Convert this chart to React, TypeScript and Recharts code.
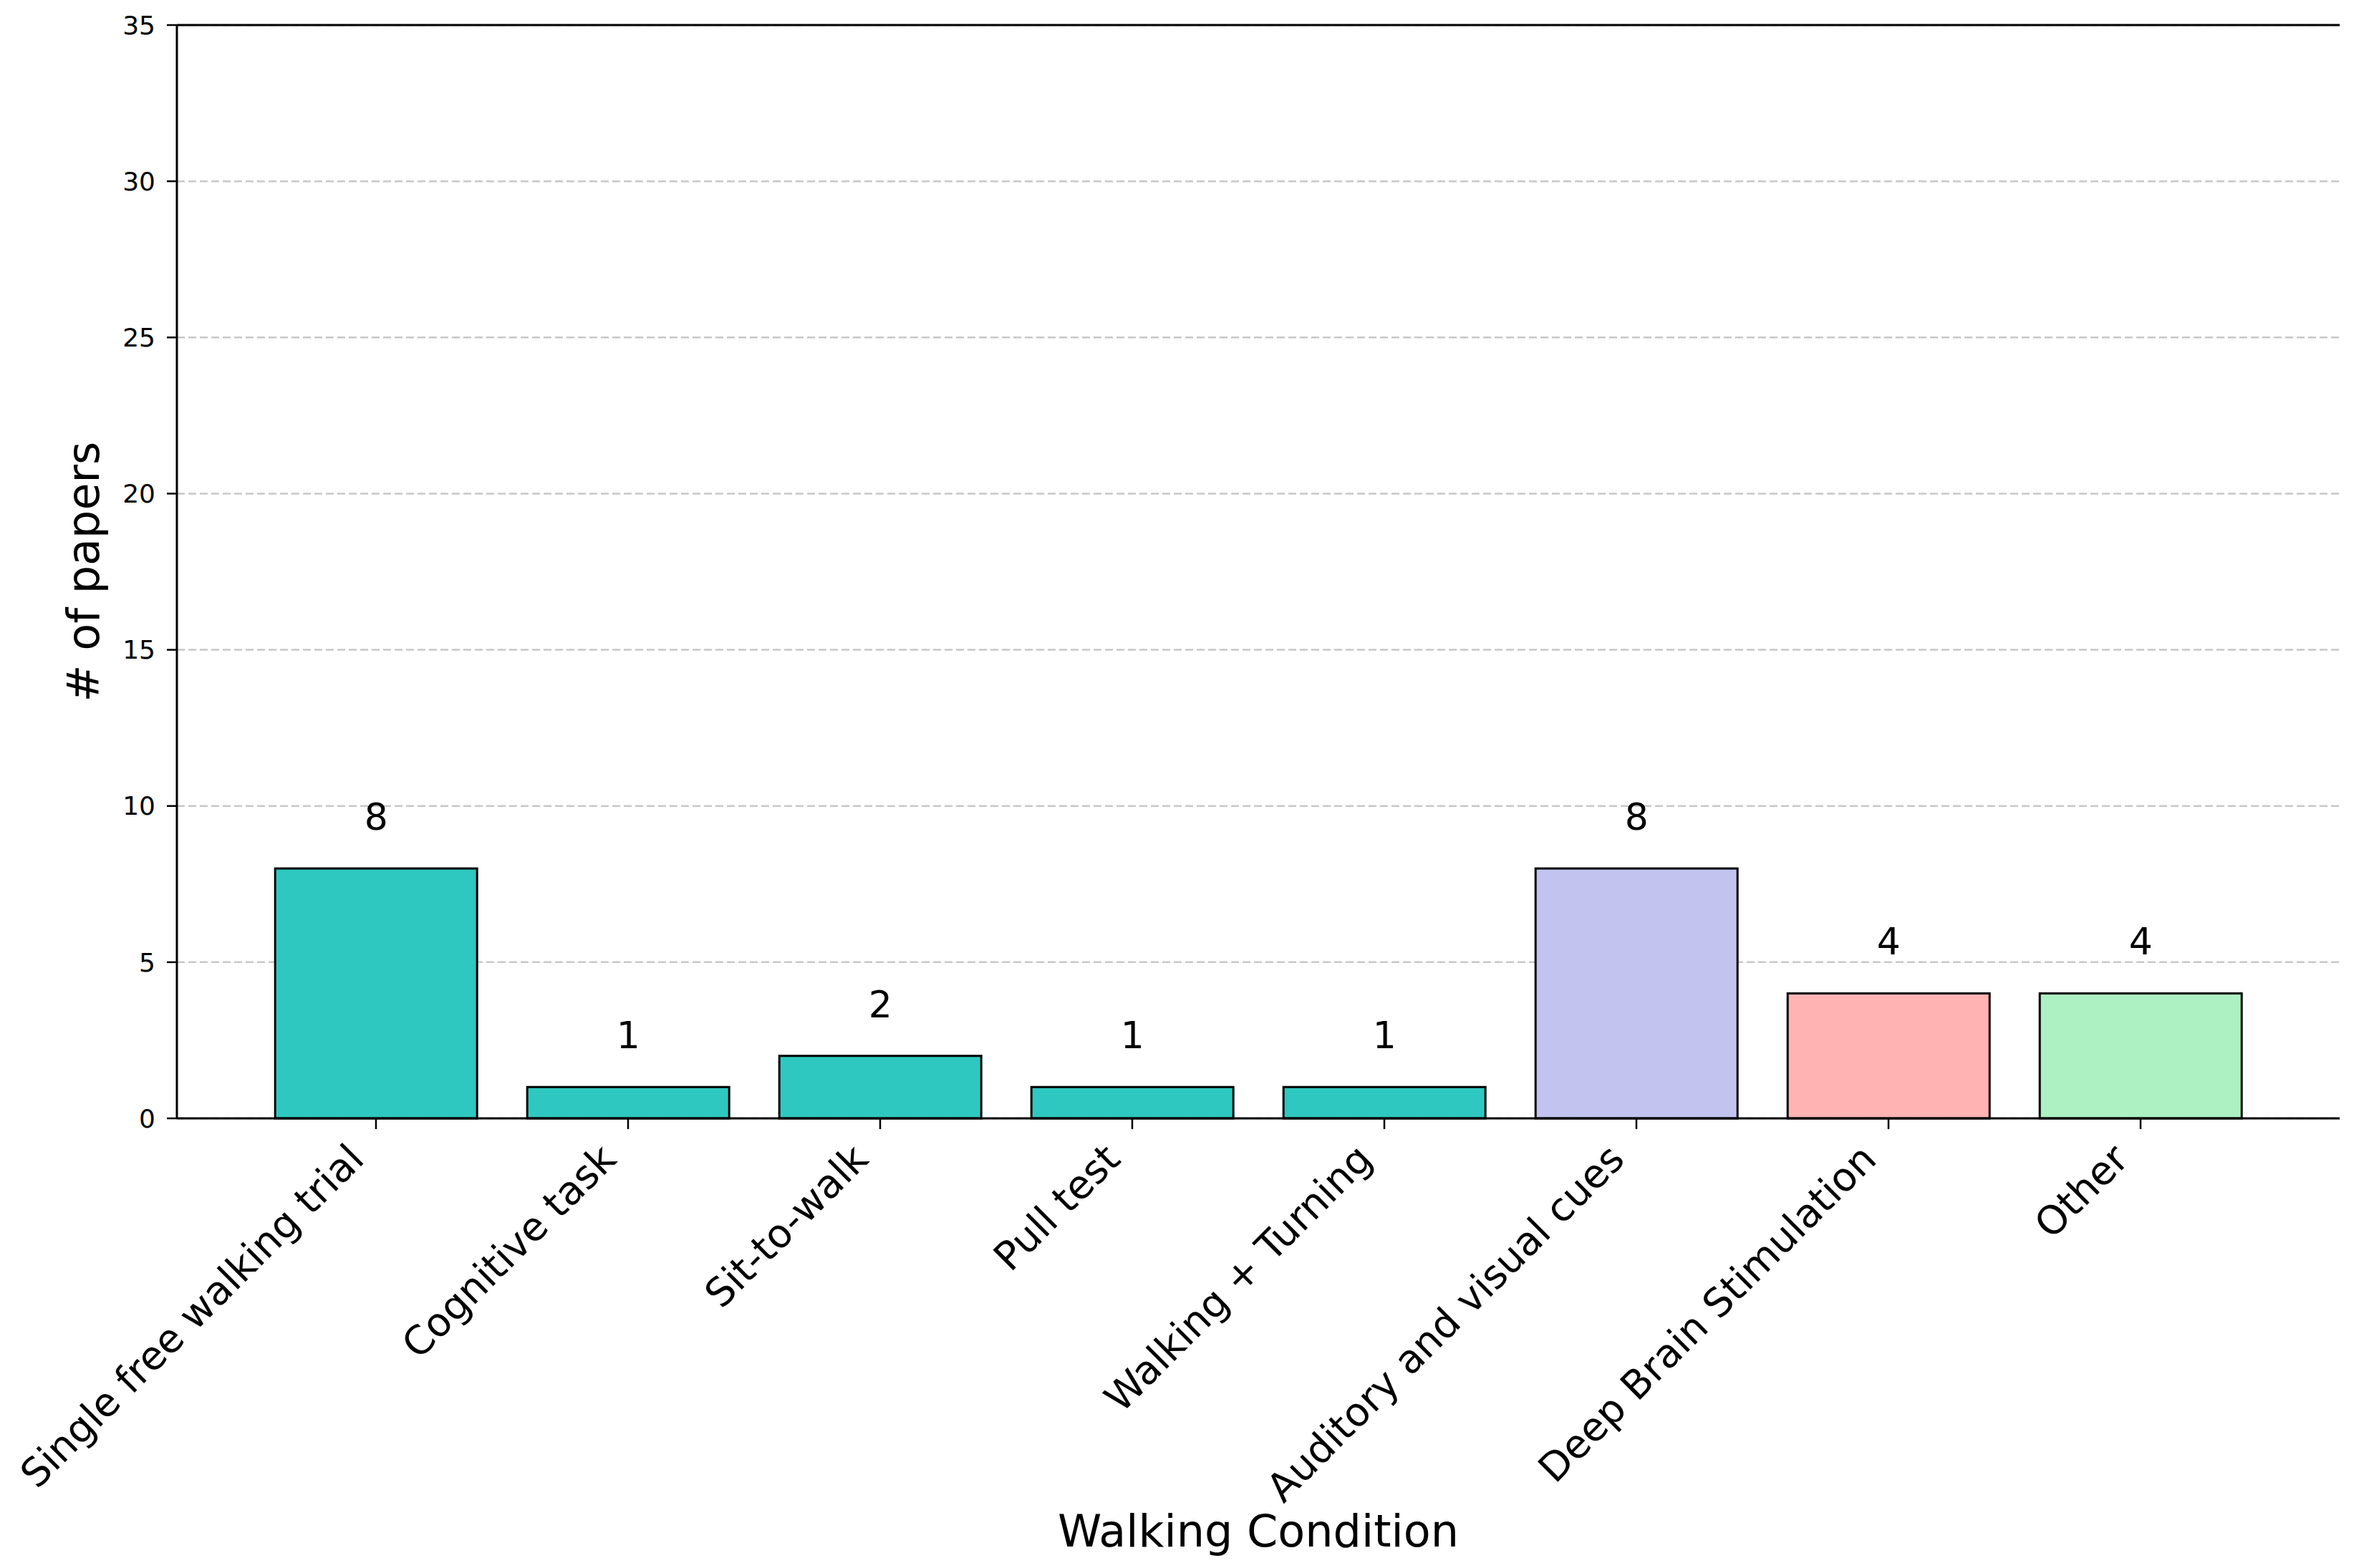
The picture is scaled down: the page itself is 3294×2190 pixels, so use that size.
import React from 'react';
import { BarChart, Bar, XAxis, YAxis, CartesianGrid, Cell, LabelList, ReferenceLine } from 'recharts';

const categories = [
  'Single free walking trial',
  'Cognitive task',
  'Sit-to-walk',
  'Pull test',
  'Walking + Turning',
  'Auditory and visual cues',
  'Deep Brain Stimulation',
  'Other',
];
const paperCounts = [8, 1, 2, 1, 1, 8, 4, 4];
const barColors = ['#2ec8c0', '#2ec8c0', '#2ec8c0', '#2ec8c0', '#2ec8c0', '#c3c3f0', '#ffb3b3', '#adf1c2'];
const yTicks = [0, 5, 10, 15, 20, 25, 30, 35];

const data = categories.map((name, i) => ({ name, value: paperCounts[i] }));

const FONT = '"DejaVu Sans", sans-serif';

// rotated category labels, right end tucked under the tick like matplotlib ha='right'
const XTick = (props: any) => {
  const { x, y, payload } = props;
  const ax = x - 14;
  const ay = y + 45;
  return (
    <text
      x={ax}
      y={ay}
      textAnchor="end"
      transform={`rotate(-45, ${ax}, ${ay})`}
      fontSize={55}
      fontFamily={FONT}
      fill="#000"
    >
      {payload.value}
    </text>
  );
};

const XLabel = (props: any) => {
  const vb = props.viewBox;
  return (
    <text x={vb.x + vb.width / 2} y={vb.y + 598} textAnchor="middle" fontSize={62} fontFamily={FONT} fill="#000">
      Walking Condition
    </text>
  );
};

const YLabel = (props: any) => {
  const vb = props.viewBox;
  const cx = vb.x + 130;
  const cy = vb.y + vb.height / 2;
  return (
    <text x={cx} y={cy} textAnchor="middle" transform={`rotate(-90, ${cx}, ${cy})`} fontSize={62} fontFamily={FONT} fill="#000">
      # of papers
    </text>
  );
};

export default function App() {
  return (
    <div style={{ width: 3278, height: 2174, background: '#fff' }}>
      <BarChart
        width={3278}
        height={2174}
        data={data}
        margin={{ top: 27, right: 19, bottom: 0, left: 0 }}
        barCategoryGap="10%"
      >
        <CartesianGrid vertical={false} stroke="#c8c8c8" strokeWidth={2.5} strokeDasharray="11 5" />
        <XAxis
          dataKey="name"
          interval={0}
          height={620}
          padding={{ left: 102, right: 102 }}
          tick={<XTick />}
          tickSize={15}
          tickMargin={0}
          axisLine={{ stroke: '#000', strokeWidth: 3 }}
          tickLine={{ stroke: '#000', strokeWidth: 2.5 }}
          label={<XLabel />}
        />
        <YAxis
          domain={[0, 35]}
          ticks={yTicks}
          width={239}
          tickSize={14}
          tickMargin={16}
          tick={{ fontSize: 36, fontFamily: FONT, fill: '#000' }}
          axisLine={{ stroke: '#000', strokeWidth: 3 }}
          tickLine={{ stroke: '#000', strokeWidth: 2.5 }}
          label={<YLabel />}
        />
        <YAxis
          yAxisId="right"
          orientation="right"
          domain={[0, 35]}
          width={0}
          tick={false}
          tickLine={false}
          axisLine={{ stroke: '#000', strokeWidth: 3 }}
        />
        <ReferenceLine y={35} stroke="#000" strokeWidth={3} />
        <Bar dataKey="value" stroke="#000" strokeWidth={3} isAnimationActive={false}>
          {data.map((d, i) => (
            <Cell key={d.name} fill={barColors[i]} />
          ))}
          <LabelList
            dataKey="value"
            position="top"
            offset={54}
            fontSize={52}
            fontFamily={FONT}
            fill="#000"
          />
        </Bar>
      </BarChart>
    </div>
  );
}
